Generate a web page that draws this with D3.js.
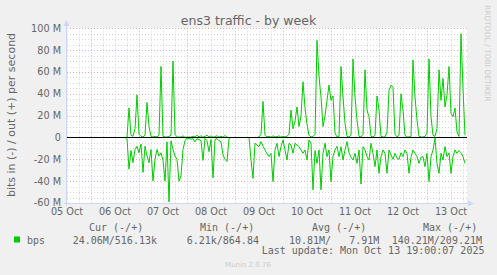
<!DOCTYPE html>
<html>
<head>
<meta charset="utf-8">
<script src="https://cdn.jsdelivr.net/npm/d3@7.9.0/dist/d3.min.js"></script>
<style>
  body { margin: 0; background: #f0f0f0; }
  text { font-family: "DejaVu Sans", sans-serif; fill: #666666; }
  .mono { font-family: "DejaVu Sans Mono", monospace; white-space: pre; }
</style>
</head>
<body>
<svg id="chart" width="497" height="275"></svg>
<script>
// hourly samples in Mbit/s, first one at 05 Oct 12:00
const startTime = Date.UTC(2025, 9, 5, 12);

const bitsOut = [
  0,0,0,0,0,0,0,0,0,0, 0,0,0,0,0,0,0,0,0,0, 0,0,0,0,0,0,0,0,0,0,
  0.3,27,2,1,8,39,3,1,0.5,2, 32,10,1,0.5,1,0.5,2,65,1,0.5,
  0.5,1,2,70,3,0.5,0.3,0.5,1.5,0.3, 0.2,0.5,0.3,1.2,0.4,2,0.5,1.5,0.3,1,
  2,0.5,1.5,0.3,0.8,1.6,0.4,1.2,0.3,1.8, 0.3,0,0,0,0,0,0,0,0,0,
  0,0,0,0,0,0,0.5,3,33,2, 0.5,1,0.3,1.5,0.5,0.8,1.5,0.3,1,0.5,
  1.2,3,25,8,15,28,10,20,51,27, 12,2,0.5,1,3,89,56,37,10,20,
  34,48,34,38,4,0.5,1,65,37,13, 1,0.5,2,72,37,16,1,0.5,3,62,
  25,19,1,0.5,2,38,25,1,0.5,0.5, 5,43,48,46,3,0.5,2,40,25,2,
  0.5,0.5,1,71,37,16,1,0.5,0.5,1, 4,72,19,2,1,8,62,34,54,28,
  39,65,22,19,27,5,1,95,45,2
];

const bitsIn = [
  0,0,0,0,0,0,0,0,0,0, 0,0,0,0,0,0,0,0,0,0, 0,0,0,0,0,0,0,0,0,0,
  1,29,12,23,11,8,14,6,32,8, 17,23,11,40,20,11,17,14,21,40,
  4,59,3,11,17,20,40,35,11,3, 0.5,1,1.5,1,4,1,2,3,21,1,
  3,13,2,37,2,1,3,4,16,20, 22,1,0,0,0,0,0,0,0,0,
  0,0,20.6,37.4,5.3,7,8.4,3.8,8,11.4, 15,17.5,14.5,40.4,11.4,5.3,17.5,8.4,2.3,11.4,
  20.6,5.3,6.9,14.5,5.3,7,8.4,11.4,14.5,11.4, 20.6,2.3,5.3,48,12,23.7,11.4,48,14.5,5.3,
  17.5,11.4,40.4,17.5,11.4,8,17.5,8.4,20.6,11.4, 3.8,14,18,20.6,14.5,23.7,11.4,42.6,8.4,11.4,
  17.5,20.6,5.3,14.5,26.7,11.4,32.8,17.5,11.4,14.5, 32.8,11.4,16,20,14.5,19,20,14,17.5,11.4,
  14.5,32.8,18,11.4,14.5,17.5,23.7,18,17.5,26.7, 14.5,40.4,17.5,11.4,0.5,23.7,32.8,14.5,20.6,8.4,
  17.5,14,32.8,17.5,11.4,14.5,12,14,17.5,23.7
];

const yTicks = [-60, -40, -20, 0, 20, 40, 60, 80, 100];
const dayLabels = ["05 Oct", "06 Oct", "07 Oct", "08 Oct", "09 Oct", "10 Oct", "11 Oct", "12 Oct", "13 Oct"];
const legendHeads = ["Cur (-/+)", "Min (-/+)", "Avg (-/+)", "Max (-/+)"];
const legendValues = ["24.06M/516.13k", "6.21k/864.84", "10.81M/   7.91M", "140.21M/209.21M"];
const lastUpdate = "Last update: Mon Oct 13 19:00:07 2025";

const hour = 3600e3;
const svg = d3.select('#chart');
const plotLeft = 67, plotRight = 467, plotTop = 28.3, plotBottom = 203;

const x = d3.scaleUtc()
  .domain([new Date(startTime), new Date(startTime + 200 * hour)])
  .range([plotLeft, plotRight]);
const y = d3.scaleLinear().domain([-60, 100]).range([plotBottom, plotTop]);

// canvas
svg.append('rect').attr('x', plotLeft).attr('y', plotTop)
  .attr('width', plotRight - plotLeft).attr('height', plotBottom - plotTop).attr('fill', '#fff');

const grid = svg.append('g').attr('fill', 'none').attr('stroke-width', 1).attr('stroke-dasharray', '1,2');
const crisp = v => Math.round(v) + 0.5;

// horizontal grid: minor every 5M, major every 20M
d3.range(-60, 101, 5).forEach(v => {
  let major = v % 20 === 0;
  grid.append('line')
    .attr('x1', plotLeft).attr('x2', plotRight)
    .attr('y1', crisp(y(v))).attr('y2', crisp(y(v)))
    .attr('stroke', major ? '#eeaaaa' : '#d6d6d6');
});

// vertical grid: minor every 6 hours, major at midnight
d3.utcHour.every(6).range(x.domain()[0], x.domain()[1]).forEach(t => {
  let major = t.getUTCHours() === 0;
  grid.append('line')
    .attr('x1', crisp(x(t))).attr('x2', crisp(x(t)))
    .attr('y1', plotTop).attr('y2', plotBottom)
    .attr('stroke', major ? '#eeaaaa' : '#d6d6d6');
});

// series
const line = d3.line()
  .x((d, i) => x(new Date(startTime + i * hour)))
  .y(d => y(d));

svg.append('path').datum(bitsOut)
  .attr('d', line).attr('fill', 'none').attr('stroke', '#00cc00').attr('stroke-width', 1);
svg.append('path').datum(bitsIn.map(v => -v))
  .attr('d', line).attr('fill', 'none').attr('stroke', '#00cc00').attr('stroke-width', 1);

// zero rule
svg.append('line').attr('x1', plotLeft).attr('x2', plotRight)
  .attr('y1', y(0)).attr('y2', y(0)).attr('stroke', '#000').attr('stroke-width', 1.2);

// axes with arrows
const axisColor = '#cfd6f8';
svg.append('line').attr('x1', plotLeft - 0.5).attr('x2', plotLeft - 0.5).attr('y1', plotBottom + 3).attr('y2', 24)
  .attr('stroke', axisColor);
svg.append('line').attr('x1', plotLeft - 3).attr('x2', 470).attr('y1', plotBottom + 0.5).attr('y2', plotBottom + 0.5)
  .attr('stroke', axisColor);
svg.append('path').attr('d', `M${plotLeft - 3.5},26L${plotLeft - 0.5},20L${plotLeft + 2.5},26Z`).attr('fill', axisColor);
svg.append('path').attr('d', `M468,${plotBottom - 2.5}L474,${plotBottom + 0.5}L468,${plotBottom + 3.5}Z`).attr('fill', axisColor);

// y tick labels
svg.append('g').selectAll('text').data(yTicks).join('text')
  .attr('x', 61).attr('y', d => y(d)).attr('dy', '0.36em')
  .attr('text-anchor', 'end').attr('font-size', 9.7)
  .text(d => d === 0 ? '0' : d + ' M');

// x labels, centred at noon of each day
svg.append('g').selectAll('text').data(dayLabels).join('text')
  .attr('x', (d, i) => x(new Date(startTime + i * 24 * hour)))
  .attr('y', 215).attr('text-anchor', 'middle').attr('font-size', 9.7)
  .text(d => d);

// titles
svg.append('text').attr('x', 248.5).attr('y', 24.5).attr('text-anchor', 'middle')
  .attr('font-size', 12.5).text('ens3 traffic - by week');
svg.append('text').attr('transform', 'translate(15,115) rotate(-90)').attr('text-anchor', 'middle')
  .attr('font-size', 11).text('bits in (-) / out (+) per second');
svg.append('text').attr('transform', 'translate(485,5) rotate(90)')
  .attr('font-size', 7.5).style('fill', '#cccccc').text('RRDTOOL / TOBI OETIKER');

// legend
const headX = [89, 200, 312, 423];
const valX = [72.7, 186.7, 289, 391.7];
svg.append('g').selectAll('text').data(legendHeads).join('text')
  .attr('class', 'mono').attr('x', (d, i) => headX[i]).attr('y', 231).attr('font-size', 10)
  .text(d => d);
svg.append('rect').attr('x', 14).attr('y', 236.5).attr('width', 6).attr('height', 6).attr('fill', '#00cc00');
svg.append('text').attr('class', 'mono').attr('x', 27).attr('y', 243.5).attr('font-size', 10).text('bps');
svg.append('g').selectAll('text').data(legendValues).join('text')
  .attr('class', 'mono').attr('x', (d, i) => valX[i]).attr('y', 243.5).attr('font-size', 10)
  .text(d => d);
svg.append('text').attr('class', 'mono').attr('x', 261.7).attr('y', 254).attr('font-size', 10).text(lastUpdate);

svg.append('text').attr('x', 248).attr('y', 267).attr('text-anchor', 'middle')
  .attr('font-size', 7).style('fill', '#cccccc').text('Munin 2.0.76');
</script>
</body>
</html>
